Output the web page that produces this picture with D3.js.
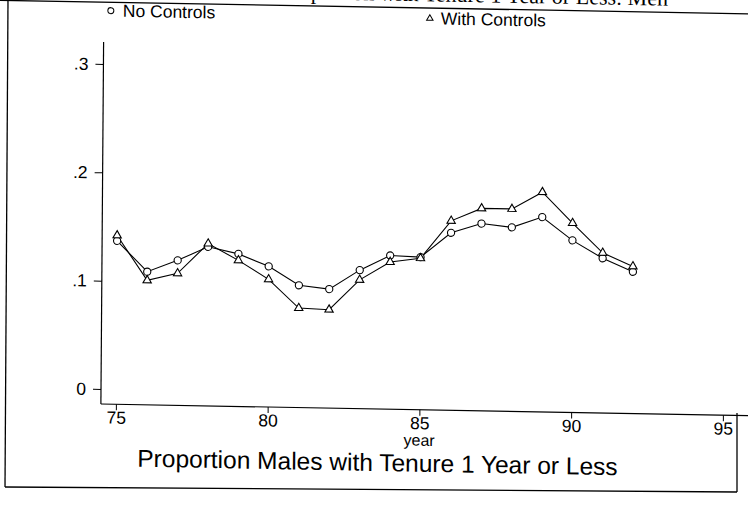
<!DOCTYPE html>
<html>
<head>
<meta charset="utf-8">
<script src="https://cdn.jsdelivr.net/npm/d3@7"></script>
<style>
  html, body { margin: 0; padding: 0; background: #fff; }
  svg { display: block; }
  text { font-family: "Liberation Sans", Arial, Helvetica, sans-serif; fill: #000; }
</style>
</head>
<body>
<svg id="chart" width="748" height="507"></svg>
<script>
// Survey years (19xx) and the share of males with tenure of one year or less
const years = [75, 76, 77, 78, 79, 80, 81, 82, 83, 84, 85, 86, 87, 88, 89, 90, 91, 92];
const noControls   = [0.137, 0.109, 0.120, 0.133, 0.127, 0.116, 0.099, 0.096, 0.114, 0.128, 0.127, 0.150, 0.159, 0.156, 0.166, 0.145, 0.129, 0.117];
const withControls = [0.142, 0.101, 0.108, 0.136, 0.121, 0.104, 0.078, 0.077, 0.105, 0.122, 0.126, 0.161, 0.173, 0.173, 0.189, 0.161, 0.134, 0.122];

const xTicks = [75, 80, 85, 90, 95];
const yTicks = [0, 0.1, 0.2, 0.3];
const yTickLabels = ["0", ".1", ".2", ".3"];
const seriesNames = ["No Controls", "With Controls"];
const xTitle = "year";
const chartTitle = "Proportion Males with Tenure 1 Year or Less";
const pageTitle = "Proportion with Tenure 1 Year or Less: Men";

const svg = d3.select("#chart");
svg.append("rect").attr("width", 748).attr("height", 507).attr("fill", "#fff");

// The printed page sits slightly skewed; draw the plot in a sheared frame
const cx = 101, cy = 389, slopeY = 0.018, slopeX = -0.0075;
const g = svg.append("g")
  .attr("transform", `matrix(1, ${slopeY}, ${slopeX}, 1, ${-slopeX * cy}, ${-slopeY * cx})`);

const x = d3.scaleLinear().domain([75, 95]).range([116, 723]);
const y = d3.scaleLinear().domain([0, 0.3]).range([389, 64]);

const axisY0 = 404;   // x-axis position
const axisX0 = 101;   // y-axis position

// Page title rule and (cropped) page title
g.append("line").attr("x1", -10).attr("x2", 760).attr("y1", 2.2).attr("y2", 2.2)
  .attr("stroke", "#000").attr("stroke-width", 1.3);
g.append("text").attr("x", 665).attr("y", -4.5).attr("text-anchor", "end")
  .style("font-family", "'Liberation Serif', 'Times New Roman', serif")
  .style("font-size", "22px").text(pageTitle);

// Axis lines
g.append("line").attr("x1", axisX0).attr("x2", axisX0).attr("y1", 42).attr("y2", axisY0)
  .attr("stroke", "#000").attr("stroke-width", 1.2);
g.append("line").attr("x1", axisX0).attr("x2", 750).attr("y1", axisY0).attr("y2", axisY0)
  .attr("stroke", "#000").attr("stroke-width", 1.2);

// Y axis
const yAxis = g.append("g").attr("transform", `translate(${axisX0},0)`)
  .call(d3.axisLeft(y).tickValues(yTicks)
    .tickFormat((d, i) => yTickLabels[i]).tickSize(8).tickSizeOuter(0).tickPadding(7));
yAxis.select(".domain").remove();
yAxis.selectAll("line").attr("stroke", "#000").attr("stroke-width", 1);
yAxis.selectAll("text").style("font-size", "17.5px").style("font-family", null);

// X axis
const xAxis = g.append("g").attr("transform", `translate(0,${axisY0})`)
  .call(d3.axisBottom(x).tickValues(xTicks).tickFormat(d3.format("d"))
    .tickSize(6).tickSizeOuter(0).tickPadding(1));
xAxis.select(".domain").remove();
xAxis.selectAll("line").attr("stroke", "#000").attr("stroke-width", 1);
xAxis.selectAll("text").style("font-size", "17.5px").style("font-family", null);

// Axis and chart titles
g.append("text").attr("x", x(85)).attr("y", 440).attr("text-anchor", "middle")
  .style("font-size", "16px").text(xTitle);
g.append("text").attr("x", 378).attr("y", 466).attr("text-anchor", "middle")
  .style("font-size", "24.5px").text(chartTitle);

// Series
const series = [
  { name: seriesNames[0], values: noControls, symbol: "circle" },
  { name: seriesNames[1], values: withControls, symbol: "triangle" }
];

const line = d3.line().x((d, i) => x(years[i])).y(d => y(d));

series.forEach(s => {
  g.append("path").datum(s.values).attr("d", line)
    .attr("fill", "none").attr("stroke", "#000").attr("stroke-width", 1.1);
});

const triangle = d3.symbol().type(d3.symbolTriangle).size(30);

series.forEach(s => {
  const m = g.append("g");
  if (s.symbol === "circle") {
    m.selectAll("circle").data(s.values).join("circle")
      .attr("cx", (d, i) => x(years[i])).attr("cy", d => y(d)).attr("r", 3.6)
      .attr("fill", "#fff").attr("stroke", "#000").attr("stroke-width", 1.1);
  } else {
    m.selectAll("path").data(s.values).join("path")
      .attr("d", triangle)
      .attr("transform", (d, i) => `translate(${x(years[i])},${y(d)})`)
      .attr("fill", "#fff").attr("stroke", "#000").attr("stroke-width", 1.1);
  }
});

// Legend along the top
const leg1 = g.append("g").attr("transform", "translate(108,10.5)");
leg1.append("circle").attr("r", 3).attr("fill", "#fff").attr("stroke", "#000").attr("stroke-width", 1);
leg1.append("text").attr("x", 12).attr("y", 6).style("font-size", "17.5px").text(seriesNames[0]);

const leg2 = g.append("g").attr("transform", "translate(427,12.5)");
leg2.append("path").attr("d", d3.symbol().type(d3.symbolTriangle).size(18))
  .attr("fill", "#fff").attr("stroke", "#000").attr("stroke-width", 1);
leg2.append("text").attr("x", 11).attr("y", 6).style("font-size", "17.5px").text(seriesNames[1]);

// Outer frame of the figure
svg.append("line").attr("x1", 8).attr("y1", 0).attr("x2", 5).attr("y2", 487)
  .attr("stroke", "#000").attr("stroke-width", 1.3);
svg.append("line").attr("x1", 5).attr("y1", 487).attr("x2", 737).attr("y2", 492)
  .attr("stroke", "#000").attr("stroke-width", 1.3);
svg.append("line").attr("x1", 737).attr("y1", 413).attr("x2", 737).attr("y2", 492)
  .attr("stroke", "#000").attr("stroke-width", 1.3);
</script>
</body>
</html>
